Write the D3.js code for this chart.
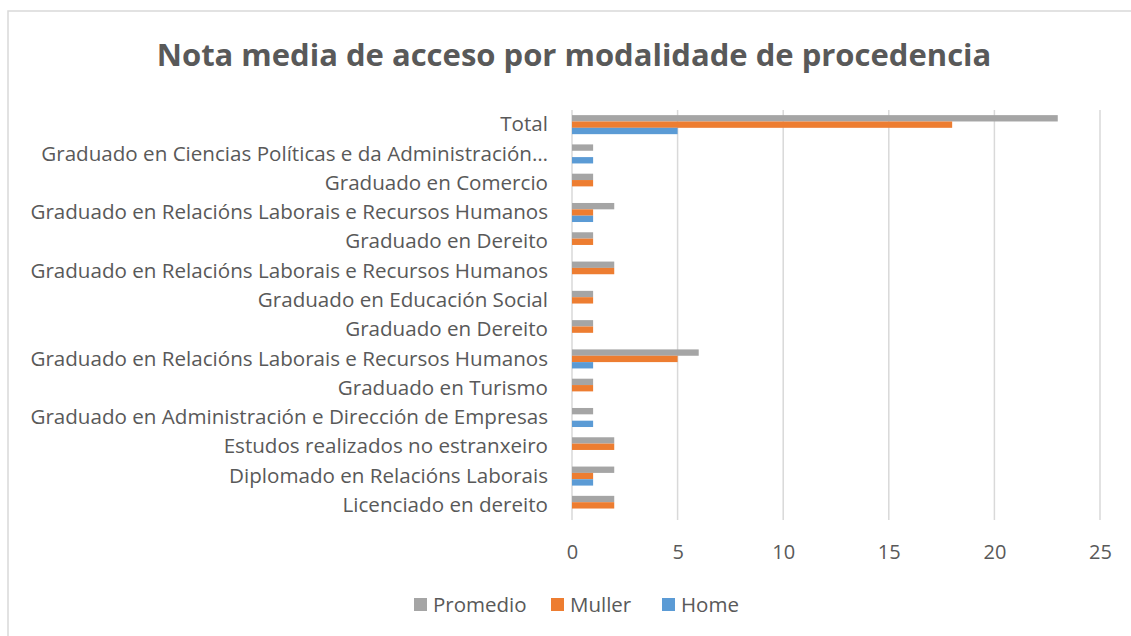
<!DOCTYPE html>
<html>
<head>
<meta charset="utf-8">
<script src="https://cdn.jsdelivr.net/npm/d3@7"></script>
<style>
  html, body { margin: 0; padding: 0; background: #fff; }
  svg { display: block; font-family: "Open Sans", "Noto Sans", sans-serif; }
</style>
</head>
<body>
<svg id="chart" width="1131" height="636"></svg>
<script>
// Categories, top to bottom
const categories = [
  "Total",
  "Graduado en Ciencias Políticas e da Administración…",
  "Graduado en Comercio",
  "Graduado en Relacións Laborais e Recursos Humanos",
  "Graduado en Dereito",
  "Graduado en Relacións Laborais e Recursos Humanos",
  "Graduado en Educación Social",
  "Graduado en Dereito",
  "Graduado en Relacións Laborais e Recursos Humanos",
  "Graduado en Turismo",
  "Graduado en Administración e Dirección de Empresas",
  "Estudos realizados no estranxeiro",
  "Diplomado en Relacións Laborais",
  "Licenciado en dereito"
];

// Series values (same order as categories)
const promedio = [23, 1, 1, 2, 1, 2, 1, 1, 6, 1, 1, 2, 2, 2];
const muller   = [18, 0, 1, 1, 1, 2, 1, 1, 5, 1, 0, 2, 1, 2];
const home     = [5, 1, 0, 1, 0, 0, 0, 0, 1, 0, 1, 0, 1, 0];

const seriesNames = ["Promedio", "Muller", "Home"];
const seriesColors = ["#A5A5A5", "#ED7D31", "#5B9BD5"];
const xTicks = [0, 5, 10, 15, 20, 25];

const series = [promedio, muller, home];
const rows = categories.map((c, i) => ({
  key: i, label: c,
  values: seriesNames.map((s, j) => ({ series: s, value: series[j][i], color: seriesColors[j] }))
}));

const svg = d3.select("#chart");
const textColor = "#595959";

// Chart frame
svg.append("rect")
  .attr("x", 8).attr("y", 11).attr("width", 1140).attr("height", 640)
  .attr("fill", "#fff").attr("stroke", "#d9d9d9").attr("stroke-width", 1.5);

// Title
svg.append("text")
  .attr("x", 574).attr("y", 66)
  .attr("text-anchor", "middle")
  .attr("font-size", 31).attr("font-weight", "bold")
  .attr("fill", textColor)
  .text("Nota media de acceso por modalidade de procedencia");

const plot = { left: 572, right: 1100, top: 110, bottom: 520 };

const x = d3.scaleLinear().domain([0, 25]).range([plot.left, plot.right]);
const y = d3.scaleBand().domain(rows.map(r => r.key))
  .range([plot.top, plot.bottom]).paddingInner(0.35).paddingOuter(0.175);
const ySub = d3.scaleBand().domain(seriesNames).range([0, y.bandwidth()]);

// Vertical gridlines
svg.append("g").selectAll("line").data(xTicks).join("line")
  .attr("x1", d => x(d)).attr("x2", d => x(d))
  .attr("y1", plot.top).attr("y2", plot.bottom)
  .attr("stroke", "#d9d9d9").attr("stroke-width", 1.5);

// Bars
const groups = svg.append("g").selectAll("g").data(rows).join("g")
  .attr("transform", d => `translate(0,${y(d.key)})`);
groups.selectAll("rect").data(d => d.values).join("rect")
  .attr("x", x(0))
  .attr("y", d => ySub(d.series))
  .attr("width", d => x(d.value) - x(0))
  .attr("height", ySub.bandwidth())
  .attr("fill", d => d.color);

// X axis tick labels
const xAxis = d3.axisBottom(x).tickValues(xTicks).tickSize(0).tickPadding(0);
const xg = svg.append("g").attr("transform", `translate(0,${plot.bottom})`).call(xAxis);
xg.select(".domain").remove();
xg.selectAll("text")
  .attr("y", 39).attr("dy", null)
  .attr("font-size", 20).attr("font-family", "\"Open Sans\", sans-serif")
  .attr("fill", textColor);

// Category labels
const yAxis = d3.axisLeft(y).tickFormat(k => rows[k].label).tickSize(0).tickPadding(0);
const yg = svg.append("g").attr("transform", `translate(${plot.left - 24},0)`).call(yAxis);
yg.select(".domain").remove();
yg.selectAll("text")
  .attr("font-size", 20.6).attr("font-family", "\"Open Sans\", sans-serif")
  .attr("fill", textColor);

// Legend
const legendX = [414, 551, 662];
const legend = svg.append("g").selectAll("g").data(seriesNames).join("g")
  .attr("transform", (d, i) => `translate(${legendX[i]},598)`);
legend.append("rect").attr("width", 13).attr("height", 13)
  .attr("fill", (d, i) => seriesColors[i]);
legend.append("text").attr("x", 19).attr("y", 14)
  .attr("font-size", 20.5).attr("fill", textColor)
  .text(d => d);
</script>
</body>
</html>
